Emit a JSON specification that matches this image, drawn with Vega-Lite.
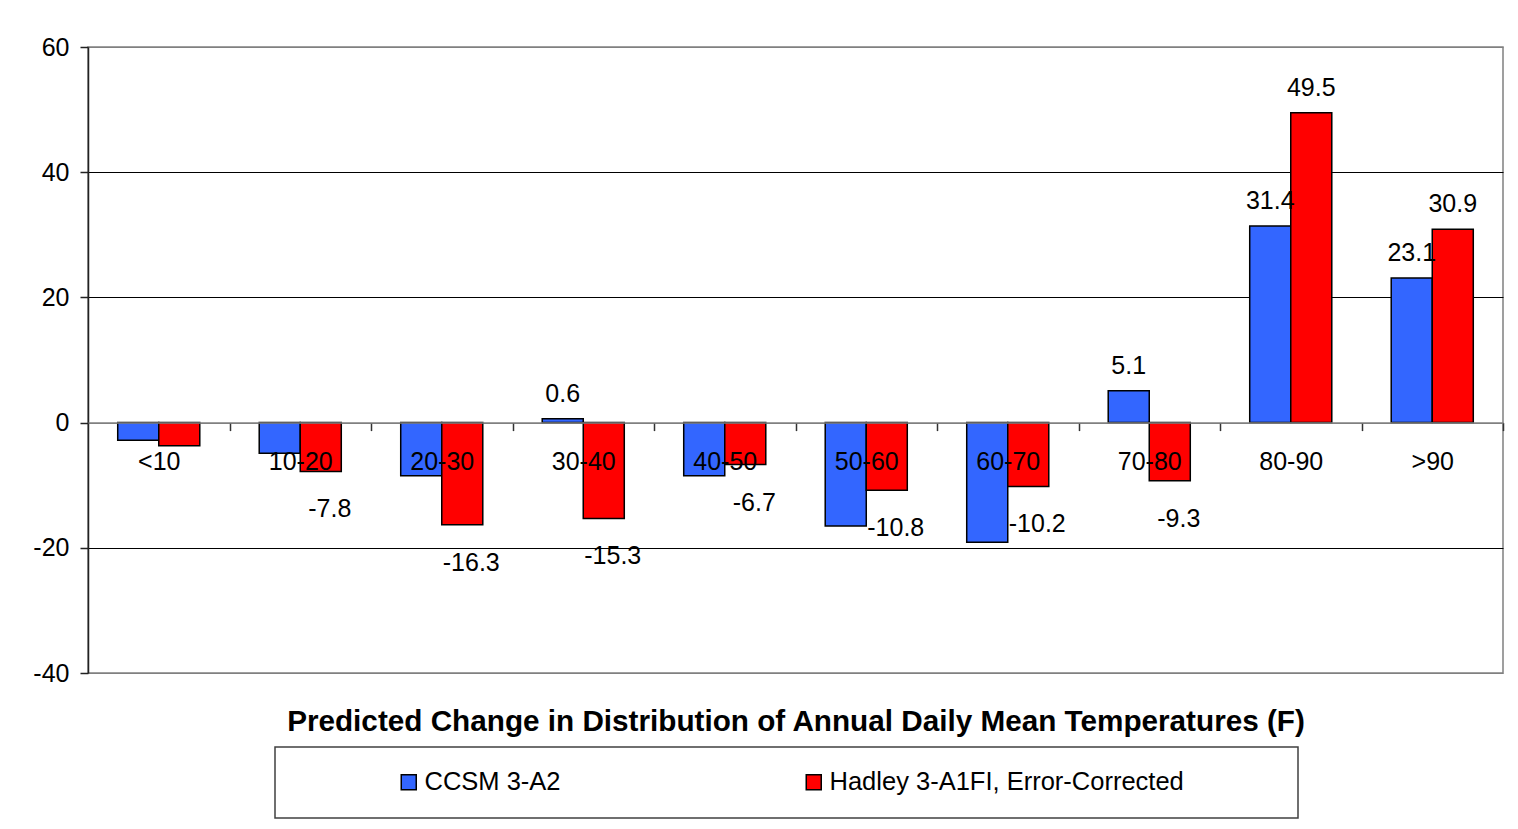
{
  "$schema": "https://vega.github.io/schema/vega-lite/v6.json",
  "width": 1415,
  "height": 626,
  "autosize": {"type": "none"},
  "padding": {"left": 88, "top": 47, "right": 15, "bottom": 156},
  "background": "white",
  "config": {
    "font": "Liberation Sans",
    "view": {"stroke": "#808080", "strokeWidth": 1.5},
    "legend": {"strokeWidth": 1.5},
    "text": {"font": "Liberation Sans"}
  },
  "data": {
    "values": [
      {"range": "<10", "model": "CCSM 3-A2", "value": -2.8, "labelled": false},
      {"range": "10-20", "model": "CCSM 3-A2", "value": -4.9, "labelled": false},
      {"range": "20-30", "model": "CCSM 3-A2", "value": -8.5, "labelled": false},
      {"range": "30-40", "model": "CCSM 3-A2", "value": 0.6, "labelled": true},
      {"range": "40-50", "model": "CCSM 3-A2", "value": -8.5, "labelled": false},
      {"range": "50-60", "model": "CCSM 3-A2", "value": -16.5, "labelled": false},
      {"range": "60-70", "model": "CCSM 3-A2", "value": -19.1, "labelled": false},
      {"range": "70-80", "model": "CCSM 3-A2", "value": 5.1, "labelled": true},
      {"range": "80-90", "model": "CCSM 3-A2", "value": 31.4, "labelled": true},
      {"range": ">90", "model": "CCSM 3-A2", "value": 23.1, "labelled": true},
      {"range": "<10", "model": "Hadley 3-A1FI, Error-Corrected", "value": -3.7, "labelled": false},
      {"range": "10-20", "model": "Hadley 3-A1FI, Error-Corrected", "value": -7.8, "labelled": true},
      {"range": "20-30", "model": "Hadley 3-A1FI, Error-Corrected", "value": -16.3, "labelled": true},
      {"range": "30-40", "model": "Hadley 3-A1FI, Error-Corrected", "value": -15.3, "labelled": true},
      {"range": "40-50", "model": "Hadley 3-A1FI, Error-Corrected", "value": -6.7, "labelled": true},
      {"range": "50-60", "model": "Hadley 3-A1FI, Error-Corrected", "value": -10.8, "labelled": true},
      {"range": "60-70", "model": "Hadley 3-A1FI, Error-Corrected", "value": -10.2, "labelled": true},
      {"range": "70-80", "model": "Hadley 3-A1FI, Error-Corrected", "value": -9.3, "labelled": true},
      {"range": "80-90", "model": "Hadley 3-A1FI, Error-Corrected", "value": 49.5, "labelled": true},
      {"range": ">90", "model": "Hadley 3-A1FI, Error-Corrected", "value": 30.9, "labelled": true}
    ]
  },
  "encoding": {
    "x": {
      "field": "range",
      "type": "nominal",
      "sort": null,
      "scale": {"paddingInner": 0.42, "paddingOuter": 0.21},
      "axis": {
        "title": "Predicted Change in Distribution of Annual Daily Mean Temperatures (F)",
        "titleFont": "Liberation Sans",
        "titleFontSize": 29.7,
        "titleFontWeight": "bold",
        "titleColor": "black",
        "titleBaseline": "alphabetic",
        "titleY": 308,
        "offset": -250.4,
        "zindex": 1,
        "grid": false,
        "labelAngle": 0,
        "labelFont": "Liberation Sans",
        "labelFontSize": 25,
        "labelColor": "black",
        "labelBaseline": "middle",
        "labelPadding": 31,
        "tickSize": 8,
        "tickOffset": 70.75,
        "labelOffset": -70.75,
        "tickColor": "#333333",
        "tickWidth": 1.5,
        "domainColor": "#808080",
        "domainWidth": 1.5
      }
    },
    "xOffset": {
      "field": "model",
      "type": "nominal",
      "sort": ["CCSM 3-A2", "Hadley 3-A1FI, Error-Corrected"],
      "scale": {"paddingInner": 0, "paddingOuter": 0}
    },
    "y": {
      "field": "value",
      "type": "quantitative",
      "scale": {"domain": [-40, 60], "nice": false},
      "axis": {
        "title": null,
        "values": [-40, -20, 0, 20, 40, 60],
        "labelExpr": "'' + datum.value",
        "labelFont": "Liberation Sans",
        "labelFontSize": 25,
        "labelColor": "black",
        "labelPadding": 11,
        "tickSize": 8,
        "tickColor": "#222222",
        "tickWidth": 1.5,
        "domainColor": "#222222",
        "domainWidth": 1.5,
        "grid": true,
        "gridWidth": 1,
        "gridColor": {
          "condition": {"test": "datum.value === 60 || datum.value === -40 || datum.value === 0", "value": "#808080"},
          "value": "#000000"
        }
      }
    }
  },
  "layer": [
    {
      "mark": {"type": "bar", "stroke": "black", "strokeWidth": 1.5},
      "encoding": {
        "color": {
          "field": "model",
          "type": "nominal",
          "sort": ["CCSM 3-A2", "Hadley 3-A1FI, Error-Corrected"],
          "scale": {
            "domain": ["CCSM 3-A2", "Hadley 3-A1FI, Error-Corrected"],
            "range": ["#3366FF", "#FF0000"]
          },
          "legend": {
            "orient": "none",
            "legendX": 187,
            "legendY": 700,
            "direction": "horizontal",
            "title": "\u00a0",
            "titleOrient": "left",
            "titlePadding": 99,
            "titleFontSize": 25,
            "labelFont": "Liberation Sans",
            "labelFontSize": 25.5,
            "labelColor": "black",
            "labelLimit": 700,
            "labelOffset": 3,
            "labelExpr": "datum.value === 'CCSM 3-A2' ? datum.label : datum.label + '\u00a0\u00a0\u00a0\u00a0\u00a0\u00a0\u00a0\u00a0\u00a0\u00a0\u00a0\u00a0\u00a0\u200b'",
            "symbolType": "square",
            "symbolSize": 225,
            "symbolStrokeColor": "black",
            "symbolStrokeWidth": 1.5,
            "columnPadding": 240,
            "padding": 22,
            "strokeColor": "#404040"
          }
        }
      }
    },
    {
      "transform": [{"filter": "datum.labelled && datum.value > 0"}],
      "mark": {"type": "text", "fontSize": 25, "baseline": "middle", "dy": -25, "color": "black"},
      "encoding": {"text": {"field": "value", "type": "nominal"}}
    },
    {
      "transform": [{"filter": "datum.labelled && datum.value < 0"}],
      "mark": {"type": "text", "fontSize": 25, "baseline": "middle", "dy": 38, "dx": 9, "color": "black"},
      "encoding": {"text": {"field": "value", "type": "nominal"}}
    }
  ]
}
